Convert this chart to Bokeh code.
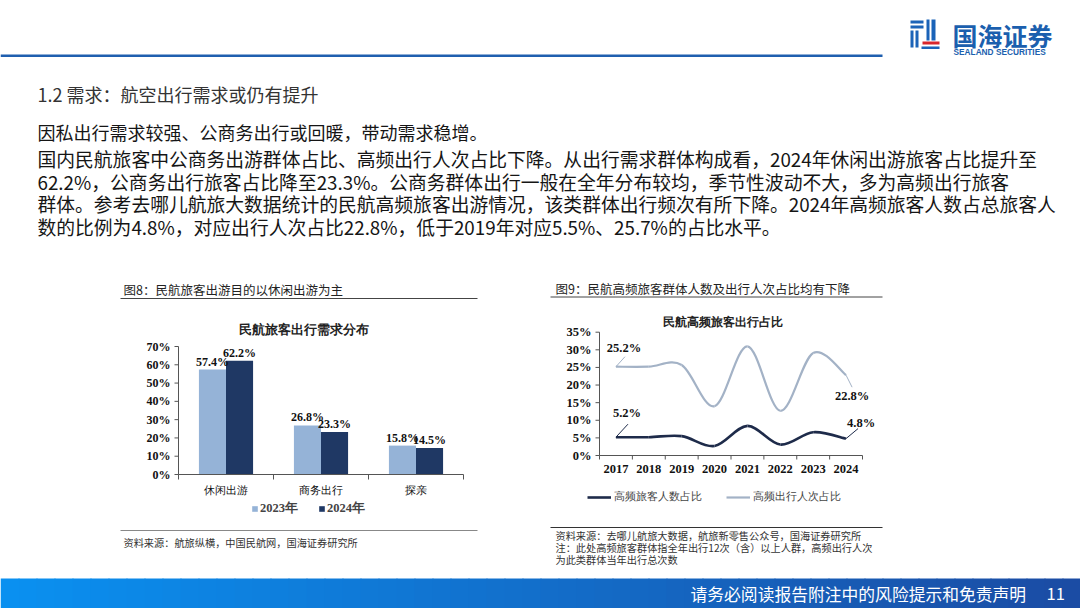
from bokeh.plotting import figure
from bokeh.models import Range1d, Legend, LegendItem
from bokeh.core.properties import value
from bokeh.embed import file_html
from bokeh.resources import INLINE

# ---------------- data ----------------
bar_categories = ["休闲出游", "商务出行", "探亲"]
bar_series = ["2023年", "2024年"]
bar_2023 = [57.4, 26.8, 15.8]
bar_2024 = [62.2, 23.3, 14.5]
bar_yticks = [0, 10, 20, 30, 40, 50, 60, 70]

line_years = ["2017", "2018", "2019", "2020", "2021", "2022", "2023", "2024"]
line_series = ["高频旅客人数占比", "高频出行人次占比"]
freq_people = [5.2, 5.2, 5.5, 2.7, 8.4, 3.1, 6.6, 4.8]
freq_trips = [25.2, 25.2, 25.7, 14.0, 31.0, 12.7, 29.1, 22.8]
line_yticks = [0, 5, 10, 15, 20, 25, 30, 35]

header_title = "1.2 需求：航空出行需求或仍有提升"
body_lead = "因私出行需求较强、公商务出行或回暖，带动需求稳增。"
body_lines = [
    "国内民航旅客中公商务出游群体占比、高频出行人次占比下降。从出行需求群体构成看，2024年休闲出游旅客占比提升至",
    "62.2%，公商务出行旅客占比降至23.3%。公商务群体出行一般在全年分布较均，季节性波动不大，多为高频出行旅客",
    "群体。参考去哪儿航旅大数据统计的民航高频旅客出游情况，该类群体出行频次有所下降。2024年高频旅客人数占总旅客人",
    "数的比例为4.8%，对应出行人次占比22.8%，低于2019年对应5.5%、25.7%的占比水平。",
]
fig8_title = "图8：民航旅客出游目的以休闲出游为主"
fig9_title = "图9：民航高频旅客群体人数及出行人次占比均有下降"
fig8_chart_title = "民航旅客出行需求分布"
fig9_chart_title = "民航高频旅客出行占比"
fig8_source = "资料来源：航旅纵横，中国民航网，国海证券研究所"
fig9_notes = [
    "资料来源：去哪儿航旅大数据，航旅新零售公众号，国海证券研究所",
    "注：此处高频旅客群体指全年出行12次（含）以上人群，高频出行人次",
    "为此类群体当年出行总次数",
]
footer_text = "请务必阅读报告附注中的风险提示和免责声明"
page_no = "11"

# ---------------- styles / layout ----------------
W, H = 1080, 608
SANS = value("Noto Sans CJK SC")
SERIF = value("Liberation Serif")
C_LIGHT = "#95B3D7"
C_DARK = "#1F3864"
C_LINE_DARK = "#1E2B4A"
C_LINE_LIGHT = "#A3B2C6"
AXIS_C = "#555555"
BLUE = "#1F5FAF"

# pixel anchors of the two plot areas (left, right, bottom, top)
BAR_BOX = (178, 463, 474, 346)
LINE_BOX = (599, 862, 455, 331.7)


def xr(px0, px1, v0, v1):
    k = (v1 - v0) / (px1 - px0)
    return Range1d(start=v0 + (0 - px0) * k, end=v0 + (W - px0) * k)


def yr(py0, py1, v0, v1):
    k = (v1 - v0) / (py1 - py0)
    return Range1d(start=v0 + (H - py0) * k, end=v0 + (0 - py0) * k)


p = figure(width=W, height=H, x_range=Range1d(0, W), y_range=Range1d(H, 0),
           output_backend="svg", toolbar_location=None, min_border=0)
p.axis.visible = False
p.grid.visible = False
p.outline_line_color = None
p.background_fill_color = "white"

n_cat = len(bar_categories)
bar_top = bar_yticks[-1]
n_yr = len(line_years)
line_top = line_yticks[-1]
p.extra_x_ranges = {"bx": xr(BAR_BOX[0], BAR_BOX[1], 0, n_cat),
                    "lx": xr(LINE_BOX[0], LINE_BOX[1], 0, n_yr)}
p.extra_y_ranges = {"by": yr(BAR_BOX[2], BAR_BOX[3], 0, bar_top),
                    "ly": yr(LINE_BOX[2], LINE_BOX[3], 0, line_top)}
bx_px = (BAR_BOX[1] - BAR_BOX[0]) / n_cat          # pixels per category
by_px = (BAR_BOX[2] - BAR_BOX[3]) / bar_top        # pixels per %
lx_px = (LINE_BOX[1] - LINE_BOX[0]) / n_yr
ly_px = (LINE_BOX[2] - LINE_BOX[3]) / line_top

# ---------------- slide header ----------------
p.quad(left=[0], right=[882], top=[54], bottom=[56.5], color=BLUE, line_color=None)
# logo icon (decorative)
p.quad(left=[910, 910, 910, 915, 926, 931, 921], right=[923, 923, 913, 918, 929, 935, 939],
       top=[20, 25, 30, 30, 19, 19, 46], bottom=[23, 28, 47, 47, 40, 40, 48.5],
       color="#1B63B8", line_color=None)
p.quad(left=[922], right=[939], top=[41], bottom=[44], color="#D8262C", line_color=None)
p.text(x=[952], y=[34], text=["国海证券"], text_font=SANS, text_font_size="25px",
       text_font_style="bold", text_color="#1B5FAE", text_baseline="middle")
p.text(x=[953], y=[51], text=["SEALAND SECURITIES"], text_font=value("Liberation Sans"),
       text_font_size="8.3px", text_font_style="bold", text_color="#1B5FAE", text_baseline="middle")
p.text(x=[37], y=[93], text=[header_title], text_font=SANS, text_font_size="18px",
       text_color="#333333", text_baseline="middle")
p.text(x=[37], y=[131], text=[body_lead], text_font=SANS, text_font_size="18px",
       text_color="#151515", text_baseline="middle")
p.text(x=[37] * len(body_lines), y=[158, 180.5, 203, 225.5], text=body_lines, text_font=SANS,
       text_font_size="18.8px", text_color="#151515", text_baseline="middle")
p.text(x=[123, 555], y=[289, 288], text=[fig8_title, fig9_title], text_font=SANS,
       text_font_size="12.5px", text_color="#222222", text_baseline="middle")
p.segment(x0=[120, 550], y0=[298, 296.5], x1=[477, 882], y1=[298, 296.5], line_color="#444444",
          line_width=1)

# ---------------- figure 8: bar chart ----------------
B = dict(x_range_name="bx", y_range_name="by")
bw = 0.285
xs = [i + 0.5 for i in range(n_cat)]
x23 = [x - bw / 2 for x in xs]
x24 = [x + bw / 2 for x in xs]
r23 = p.vbar(x=x23, top=bar_2023, width=bw, color=C_LIGHT, line_color=None, **B)
r24 = p.vbar(x=x24, top=bar_2024, width=bw, color=C_DARK, line_color=None, **B)
for xx, vals in ((x23, bar_2023), (x24, bar_2024)):
    p.text(x=xx, y=vals, text=[f"{v:.1f}%" for v in vals], text_font=SERIF, text_font_style="bold",
           text_font_size="12px", text_align="center", text_baseline="bottom", y_offset=-1,
           text_color="#111111", **B)
# axes
p.segment(x0=[0, 0], y0=[0, 0], x1=[0, n_cat], y1=[bar_top, 0], line_color=AXIS_C, line_width=1, **B)
p.segment(x0=[0] * len(bar_yticks), y0=bar_yticks, x1=[-4 / bx_px] * len(bar_yticks), y1=bar_yticks,
          line_color=AXIS_C, line_width=1, **B)
p.text(x=[0] * len(bar_yticks), y=bar_yticks, text=[f"{t}%" for t in bar_yticks], text_font=SERIF,
       text_font_style="bold", text_font_size="12px", text_align="right", text_baseline="middle",
       x_offset=-8, text_color="#111111", **B)
bounds = list(range(n_cat + 1))
p.segment(x0=bounds, y0=[0] * len(bounds), x1=bounds, y1=[-5 / by_px] * len(bounds),
          line_color=AXIS_C, line_width=1, **B)
p.text(x=xs, y=[0] * n_cat, text=bar_categories, text_font=SERIF, text_font_size="11px",
       text_align="center", text_baseline="middle", y_offset=15, text_color="#111111", **B)
p.text(x=[303], y=[329], text=[fig8_chart_title], text_font=SERIF, text_font_style="bold",
       text_font_size="12.5px", text_align="center", text_baseline="middle", text_color="#222222")
leg8 = Legend(items=[LegendItem(label=bar_series[0], renderers=[r23]),
                     LegendItem(label=bar_series[1], renderers=[r24])],
              orientation="horizontal", location=(251, H - 517), border_line_color=None,
              label_text_font="Liberation Serif", label_text_font_style="bold",
              label_text_font_size="12.5px", glyph_width=7, glyph_height=7, label_standoff=2,
              spacing=20, padding=0, margin=0, background_fill_alpha=0, label_height=14)
p.add_layout(leg8)

# ---------------- figure 9: smoothed lines ----------------
L = dict(x_range_name="lx", y_range_name="ly")
lx = [i + 0.5 for i in range(n_yr)]


def smooth(xv, yv):
    n = len(xv)
    out = dict(x0=[], y0=[], x1=[], y1=[], cx0=[], cy0=[], cx1=[], cy1=[])
    for i in range(n - 1):
        xm, ym = (xv[i - 1], yv[i - 1]) if i > 0 else (xv[i], yv[i])
        xp, yp = (xv[i + 2], yv[i + 2]) if i + 2 < n else (xv[i + 1], yv[i + 1])
        out["x0"].append(xv[i]); out["y0"].append(yv[i])
        out["x1"].append(xv[i + 1]); out["y1"].append(yv[i + 1])
        out["cx0"].append(xv[i] + (xv[i + 1] - xm) / 6); out["cy0"].append(yv[i] + (yv[i + 1] - ym) / 6)
        out["cx1"].append(xv[i + 1] - (xp - xv[i]) / 6); out["cy1"].append(yv[i + 1] - (yp - yv[i]) / 6)
    return out


rl = p.bezier(**smooth(lx, freq_trips), line_color=C_LINE_LIGHT, line_width=2.2, **L)
rd = p.bezier(**smooth(lx, freq_people), line_color=C_LINE_DARK, line_width=2.6, **L)

# data labels at first and last year with leader lines (offsets in px)
lab_idx = [0, n_yr - 1]
trip_leader = [(9, -10), (6, 12)]
trip_text = [(8, -19), (6, 21)]
ppl_leader = [(12, -13), (12, -10)]
ppl_text = [(11, -24), (15, -16)]
for series, col, lead, tpos in ((freq_trips, C_LINE_LIGHT, trip_leader, trip_text),
                                (freq_people, C_LINE_DARK, ppl_leader, ppl_text)):
    px = [lx[i] for i in lab_idx]
    py = [series[i] for i in lab_idx]
    p.segment(x0=px, y0=py, x1=[a + d[0] / lx_px for a, d in zip(px, lead)],
              y1=[b - d[1] / ly_px for b, d in zip(py, lead)], line_color=col, line_width=1, **L)
    p.text(x=px, y=py, x_offset=[d[0] for d in tpos], y_offset=[d[1] for d in tpos],
           text=[f"{v:.1f}%" for v in py], text_font=SERIF, text_font_style="bold",
           text_font_size="12.5px", text_align="center", text_baseline="middle",
           text_color="#111111", **L)
# axes
p.segment(x0=[0, 0], y0=[0, 0], x1=[0, n_yr], y1=[line_top, 0], line_color=AXIS_C, line_width=1, **L)
p.segment(x0=[0] * len(line_yticks), y0=line_yticks, x1=[-4 / lx_px] * len(line_yticks),
          y1=line_yticks, line_color=AXIS_C, line_width=1, **L)
p.text(x=[0] * len(line_yticks), y=line_yticks, text=[f"{t}%" for t in line_yticks], text_font=SERIF,
       text_font_style="bold", text_font_size="12.5px", text_align="right", text_baseline="middle",
       x_offset=-8, text_color="#111111", **L)
lbounds = list(range(n_yr + 1))
p.segment(x0=lbounds, y0=[0] * len(lbounds), x1=lbounds, y1=[-4 / ly_px] * len(lbounds),
          line_color=AXIS_C, line_width=1, **L)
p.text(x=lx, y=[0] * n_yr, text=line_years, text_font=SERIF, text_font_style="bold",
       text_font_size="12.5px", text_align="center", text_baseline="middle", y_offset=13,
       text_color="#111111", **L)
p.text(x=[722], y=[321], text=[fig9_chart_title], text_font=SERIF, text_font_style="bold",
       text_font_size="12px", text_align="center", text_baseline="middle", text_color="#222222")
leg9 = Legend(items=[LegendItem(label=line_series[0], renderers=[rd]),
                     LegendItem(label=line_series[1], renderers=[rl])],
              orientation="horizontal", location=(587, H - 504), border_line_color=None,
              label_text_font="Liberation Serif", label_text_font_size="11px",
              glyph_width=24, glyph_height=10, label_standoff=3, spacing=24, padding=0, margin=0,
              background_fill_alpha=0, label_height=14)
p.add_layout(leg9)

# ---------------- sources / notes ----------------
p.segment(x0=[120, 550], y0=[530, 527], x1=[477, 882], y1=[530, 527],
          line_color=["#888888", "#333333"], line_width=1)
p.text(x=[123], y=[542], text=[fig8_source], text_font=SANS, text_font_size="10.2px",
       text_color="#333333", text_baseline="middle")
p.text(x=[555] * 3, y=[535, 547, 559], text=fig9_notes, text_font=SANS, text_font_size="10.2px",
       text_color="#333333", text_baseline="middle")

# ---------------- footer band ----------------
n = 60
c0 = (10, 144, 240)
c1 = (27, 76, 164)
cols = []
for i in range(n):
    t = i / (n - 1)
    cols.append("#%02x%02x%02x" % tuple(int(round(a + (b - a) * t)) for a, b in zip(c0, c1)))
edges = [i * W / n for i in range(n + 1)]
p.quad(left=edges[:-1], right=[e + 1 for e in edges[1:]], top=[578] * n, bottom=[H + 2] * n,
       color=cols, line_color=None)
p.text(x=[690], y=[593], text=[footer_text], text_font=SANS, text_font_size="16.8px",
       text_color="white", text_baseline="middle")
p.text(x=[1046], y=[593], text=[page_no], text_font=SANS, text_font_size="16.5px",
       text_color="white", text_baseline="middle")

open("out.html", "w").write(file_html(p, INLINE))
